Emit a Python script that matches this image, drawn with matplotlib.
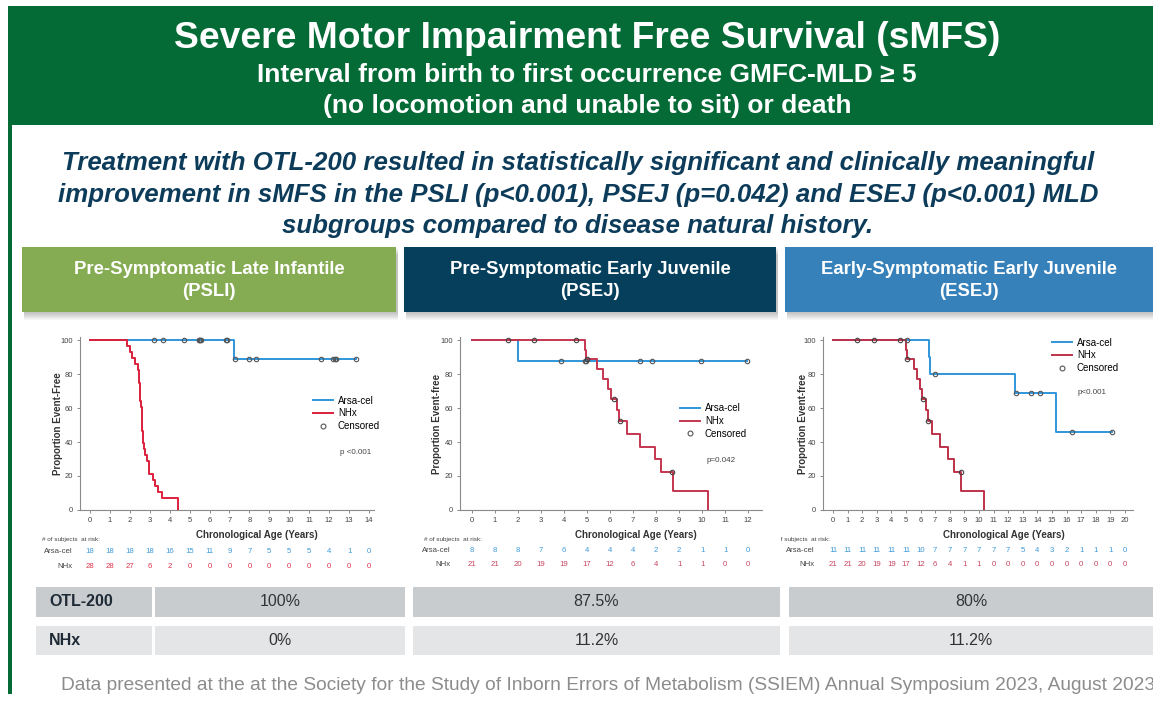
import matplotlib.pyplot as plt
import matplotlib.transforms as mtransforms
from matplotlib.patches import Rectangle
from matplotlib.lines import Line2D

plt.rcParams['font.family'] = ['Liberation Sans', 'DejaVu Sans']

# ---- values ----
title = 'Severe Motor Impairment Free Survival (sMFS)'
subtitle1 = 'Interval from birth to first occurrence GMFC-MLD \u2265 5'
subtitle2 = '(no locomotion and unable to sit) or death'
claim_lines = ['Treatment with OTL-200 resulted in statistically significant and clinically meaningful',
               'improvement in sMFS in the PSLI (p<0.001), PSEJ (p=0.042) and ESEJ (p<0.001) MLD',
               'subgroups compared to disease natural history.']
group_names = ['Pre-Symptomatic Late Infantile', 'Pre-Symptomatic Early Juvenile',
               'Early-Symptomatic Early Juvenile']
group_codes = ['(PSLI)', '(PSEJ)', '(ESEJ)']
p_values = ['p <0.001', 'p=0.042', 'p<0.001']
ylabels = ['Proportion Event-Free', 'Proportion Event-free', 'Proportion Event-free']
row_labels = ['OTL-200', 'NHx']
otl_pct = ['100%', '87.5%', '80%']
nhx_pct = ['0%', '11.2%', '11.2%']
footer = ('Data presented at the at the Society for the Study of Inborn Errors of Metabolism '
          '(SSIEM) Annual Symposium 2023, August 2023')

# PSLI
psli_arsa_t = [0, 7.25, 13.36]
psli_arsa_s = [100, 88.9, 88.9]
psli_arsa_cens_t = [3.22, 3.64, 4.74, 5.45, 5.49, 5.52, 5.56, 6.82, 6.87,
                    7.27, 8.0, 8.32, 11.58, 12.2, 12.28, 12.36, 13.36]
psli_arsa_cens_s = [100, 100, 100, 100, 100, 100, 100, 100, 100,
                    88.9, 88.9, 88.9, 88.9, 88.9, 88.9, 88.9, 88.9]
psli_nhx_t = [0, 1.84, 2.02, 2.11, 2.25, 2.39, 2.46, 2.48, 2.5, 2.51,
              2.53, 2.56, 2.59, 2.61, 2.62, 2.63, 2.64, 2.66, 2.7, 2.74,
              2.88, 2.94, 2.97, 3.14, 3.26, 3.43, 3.63, 4.43]
psli_nhx_s = [100, 96.4, 92.9, 89.3, 85.7, 82.1, 78.6, 75.0, 71.4, 67.9,
              64.3, 60.7, 57.1, 53.6, 50.0, 46.4, 42.9, 39.3, 35.7, 32.1,
              28.6, 25.0, 21.4, 17.9, 14.3, 10.7, 7.1, 0]
psli_nhx_cens_t = []
psli_nhx_cens_s = []
psli_years = [0, 1, 2, 3, 4, 5, 6, 7, 8, 9, 10, 11, 12, 13, 14]
psli_risk_arsa = [18, 18, 18, 18, 16, 15, 11, 9, 7, 5, 5, 5, 4, 1, 0]
psli_risk_nhx = [28, 28, 27, 6, 2, 0, 0, 0, 0, 0, 0, 0, 0, 0, 0]

# PSEJ
psej_arsa_t = [0, 2.0, 11.95]
psej_arsa_s = [100, 87.5, 87.5]
psej_arsa_cens_t = [3.86, 4.9, 4.96, 7.28, 7.81, 9.94, 11.95]
psej_arsa_cens_s = [87.5, 87.5, 87.5, 87.5, 87.5, 87.5, 87.5]
psej_nhx_t = [0, 4.9, 4.96, 5.43, 5.7, 5.9, 6.06, 6.3, 6.4, 6.74, 7.29, 7.97, 8.23, 8.74, 10.26]
psej_nhx_s = [100, 94.4, 88.9, 83.0, 77.0, 71.1, 65.2, 58.6, 52.1, 44.7, 37.2, 29.8, 22.3, 11.2, 0]
psej_nhx_cens_t = [1.57, 2.71, 4.52, 4.99, 6.15, 6.45, 8.7]
psej_nhx_cens_s = [100, 100, 100, 88.9, 65.2, 52.1, 22.3]
psej_years = [0, 1, 2, 3, 4, 5, 6, 7, 8, 9, 10, 11, 12]
psej_risk_arsa = [8, 8, 8, 7, 6, 4, 4, 4, 2, 2, 1, 1, 0]
psej_risk_nhx = [21, 21, 20, 19, 19, 17, 12, 6, 4, 1, 1, 0, 0]

# ESEJ
esej_arsa_t = [0, 6.55, 6.62, 12.47, 15.3, 19.1]
esej_arsa_s = [100, 90.0, 80.0, 68.6, 45.7, 45.7]
esej_arsa_cens_t = [5.1, 7.0, 12.52, 13.56, 14.2, 16.4, 19.1]
esej_arsa_cens_s = [100, 80.0, 68.6, 68.6, 68.6, 45.7, 45.7]
esej_nhx_t = [0, 4.98, 5.05, 5.55, 5.78, 5.96, 6.12, 6.4, 6.49, 6.81, 7.34, 7.89, 8.3, 8.8, 10.32]
esej_nhx_s = [100, 94.4, 88.9, 83.0, 77.0, 71.1, 65.2, 58.6, 52.1, 44.7, 37.2, 29.8, 22.3, 11.2, 0]
esej_nhx_cens_t = [1.65, 2.8, 4.56, 5.09, 6.2, 6.5, 8.76]
esej_nhx_cens_s = [100, 100, 100, 88.9, 65.2, 52.1, 22.3]
esej_years = [0, 1, 2, 3, 4, 5, 6, 7, 8, 9, 10, 11, 12, 13, 14, 15, 16, 17, 18, 19, 20]
esej_risk_arsa = [11, 11, 11, 11, 11, 11, 10, 7, 7, 7, 7, 7, 7, 5, 4, 3, 2, 1, 1, 1, 0]
esej_risk_nhx = [21, 21, 20, 19, 19, 17, 12, 6, 4, 1, 1, 0, 0, 0, 0, 0, 0, 0, 0, 0, 0]

W, H = 1153, 704
fig = plt.figure(figsize=(W / 100, H / 100), dpi=100)

# full-figure canvas in pixel units (y down) for the slide furniture
canvas = fig.add_axes([0, 0, 1, 1])
canvas.set_xlim(0, W)
canvas.set_ylim(H, 0)
canvas.axis('off')

green = '#046b36'
canvas.add_patch(Rectangle((9, 6), W - 9, 119, color=green, lw=0))
canvas.add_patch(Rectangle((8, 6), 3.5, 688, color=green, lw=0))
canvas.text(587, 38, title, color='white', fontsize=26.8, fontweight='bold', ha='center', va='center')
canvas.text(587, 75, subtitle1, color='white', fontsize=19, fontweight='bold', ha='center', va='center')
canvas.text(587, 106, subtitle2, color='white', fontsize=19, fontweight='bold', ha='center', va='center')

for y, line in zip([163, 195, 226], claim_lines):
    canvas.text(578, y, line, color='#0d3c5b', fontsize=18.6, fontweight='bold', style='italic',
                ha='center', va='center')

# subgroup header boxes with a soft shadow
boxes = [(22, 396, '#86ac53'), (404, 776, '#053f5c'), (785, 1153, '#3681b9')]
for (x0, x1, col), name, code in zip(boxes, group_names, group_codes):
    for i in range(1, 9):
        canvas.add_patch(Rectangle((x0 + 2, 247 + i), x1 - x0, 65, color='black', alpha=0.03, lw=0))
    canvas.add_patch(Rectangle((x0, 247), x1 - x0, 65, color=col, lw=0))
    cx = (x0 + x1) / 2
    canvas.text(cx, 269, name, color='white', fontsize=13.3, fontweight='bold', ha='center', va='center')
    canvas.text(cx, 292, code, color='white', fontsize=13.3, fontweight='bold', ha='center', va='center')

# ---- Kaplan-Meier panels ----
blue = '#2f96db'
panels = [
    dict(left=80, right=374, xlim=(-0.5, 14.25), years=psli_years,
         arsa=(psli_arsa_t, psli_arsa_s, psli_arsa_cens_t, psli_arsa_cens_s),
         nhx=(psli_nhx_t, psli_nhx_s, psli_nhx_cens_t, psli_nhx_cens_s),
         risk=(psli_risk_arsa, psli_risk_nhx), red='#dc1f3b', rnum='#d8344e',
         leg=(313, 395.5), pv=(340, 453), ylx=57.7, xlx=257, rh=(41.7, 540), rows=(551.7, 566.5), lab_x=73),
    dict(left=460, right=762, xlim=(-0.52, 12.6), years=psej_years,
         arsa=(psej_arsa_t, psej_arsa_s, psej_arsa_cens_t, psej_arsa_cens_s),
         nhx=(psej_nhx_t, psej_nhx_s, psej_nhx_cens_t, psej_nhx_cens_s),
         risk=(psej_risk_arsa, psej_risk_nhx), red='#c5354f', rnum='#c94660',
         leg=(680, 403), pv=(707, 460), ylx=437, xlx=636, rh=(424, 539), rows=(550, 564), lab_x=451),
    dict(left=823, right=1133, xlim=(-0.68, 20.55), years=esej_years,
         arsa=(esej_arsa_t, esej_arsa_s, esej_arsa_cens_t, esej_arsa_cens_s),
         nhx=(esej_nhx_t, esej_nhx_s, esej_nhx_cens_t, esej_nhx_cens_s),
         risk=(esej_risk_arsa, esej_risk_nhx), red='#bd3249', rnum='#c94660',
         leg=(1052, 337.5), pv=(1078, 393), ylx=803, xlx=1004, rh=(772, 539), rows=(550, 564), lab_x=815),
]

top_px, bot_px = 510 - 102 * 1.7, 510
for i, p in enumerate(panels):
    ax = fig.add_axes([p['left'] / W, 1 - bot_px / H, (p['right'] - p['left']) / W, (bot_px - top_px) / H])
    ax.patch.set_alpha(0)
    ax.set_xlim(*p['xlim'])
    ax.set_ylim(0, 102)
    for spine in ['top', 'right']:
        ax.spines[spine].set_visible(False)
    for spine in ['left', 'bottom']:
        ax.spines[spine].set_color('#8a8a8a')
        ax.spines[spine].set_linewidth(0.8)
    ax.set_xticks(p['years'])
    ax.set_yticks([0, 20, 40, 60, 80, 100])
    ax.tick_params(colors='#777777', labelcolor='#444444', labelsize=5.5, length=2.5, width=0.6, pad=2.5)

    t, s, ct, cs = p['arsa']
    ax.plot(t, s, drawstyle='steps-post', color=blue, lw=1.4, zorder=3)
    ax.plot(ct, cs, 'o', ms=3.2, mfc='none', mec='#555555', mew=0.8, zorder=4)
    t, s, ct, cs = p['nhx']
    ax.plot(t, s, drawstyle='steps-post', color=p['red'], lw=1.4, zorder=3)
    ax.plot(ct, cs, 'o', ms=3.2, mfc='none', mec='#444444', mew=0.8, zorder=4)

    handles = [Line2D([], [], color=blue, lw=1.4), Line2D([], [], color=p['red'], lw=1.4),
               Line2D([], [], ls='none', marker='o', ms=3.5, mfc='none', mec='#555555', mew=0.8)]
    ax.legend(handles, ['Arsa-cel', 'NHx', 'Censored'], loc='upper left', bbox_to_anchor=p['leg'],
              bbox_transform=canvas.transData, frameon=False, fontsize=7, borderpad=0,
              borderaxespad=0, handlelength=2.1, handletextpad=0.45, labelspacing=0.3)
    canvas.text(p['pv'][0], p['pv'][1], p_values[i], fontsize=5.8, color='#444444', va='center')

    canvas.text(p['ylx'], 424, ylabels[i], rotation=90, fontsize=7, fontweight='bold',
                color='#333333', ha='center', va='center')
    canvas.text(p['xlx'], 535, 'Chronological Age (Years)', fontsize=7, fontweight='bold',
                color='#333333', ha='center', va='center')

    # number at risk table (the ESEJ labels are cut off by the panel edge)
    clip = Rectangle((781 if i == 2 else 0, 520), W, 60, transform=canvas.transData)
    lab_kw = dict(fontsize=5.6, color='#444444', ha='right', va='center', clip_on=i == 2)
    hd = canvas.text(p['rh'][0], p['rh'][1], '# of subjects  at risk:', fontsize=4.6, color='#444444',
                     va='center', clip_on=i == 2)
    la = canvas.text(p['lab_x'], p['rows'][0], 'Arsa-cel', **lab_kw)
    ln = canvas.text(p['lab_x'], p['rows'][1], 'NHx', **lab_kw)
    for t_ in (hd, la, ln):
        t_.set_clip_path(clip)
    tr = mtransforms.blended_transform_factory(ax.transData, canvas.transData)
    for x, ra, rn in zip(p['years'], p['risk'][0], p['risk'][1]):
        canvas.text(x, p['rows'][0], str(ra), transform=tr, fontsize=5.6, color='#3f9ad8',
                    ha='center', va='center')
        canvas.text(x, p['rows'][1], str(rn), transform=tr, fontsize=5.6, color=p['rnum'],
                    ha='center', va='center')

# ---- bottom summary table ----
cols = [(155, 405), (413, 780), (789, 1153)]
rows = [(587, 617, '#c9cccf', otl_pct), (626, 655, '#e4e5e7', nhx_pct)]
for (y0, y1, col, vals), lab in zip(rows, row_labels):
    canvas.add_patch(Rectangle((36, y0), 116, y1 - y0, color=col, lw=0))
    canvas.text(49, (y0 + y1) / 2, lab, fontsize=11.5, fontweight='bold', color='#1e2a35', va='center')
    for (x0, x1), v in zip(cols, vals):
        canvas.add_patch(Rectangle((x0, y0), x1 - x0, y1 - y0, color=col, lw=0))
        canvas.text((x0 + x1) / 2, (y0 + y1) / 2, v, fontsize=11.5, color='#333333',
                    ha='center', va='center')

canvas.text(61, 686, footer, fontsize=13.8, color='#8c8c8c', va='center')

fig.savefig('out.png', dpi=100)
